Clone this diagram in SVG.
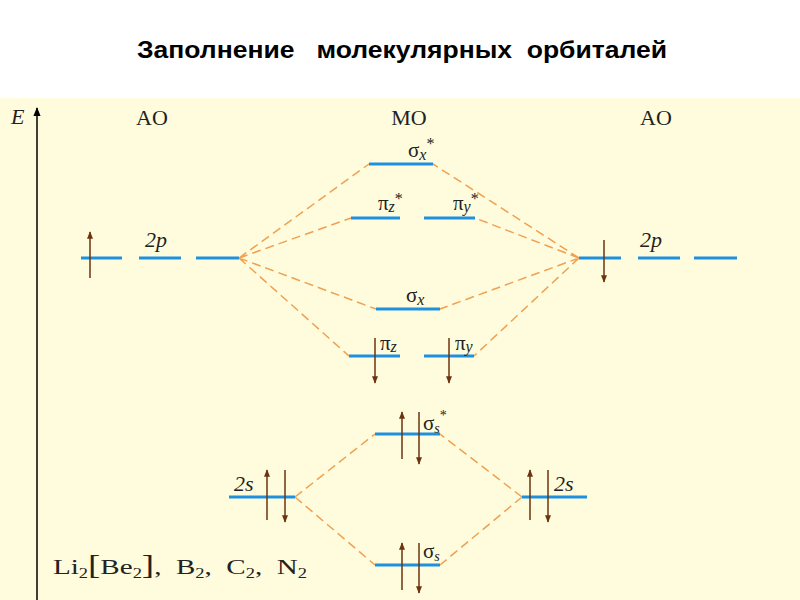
<svg xmlns="http://www.w3.org/2000/svg" width="800" height="600" viewBox="0 0 800 600">
<defs>
<style>
.lv{stroke:#1e90e0;stroke-width:3;fill:none}
.cn{stroke:#f0a050;stroke-width:1.5;stroke-dasharray:9,5;fill:none}
.ar{stroke:#6b3410;stroke-width:1.5;fill:none}
.t{font-family:"Liberation Serif",serif;font-size:22px;fill:#222}
.s{font-family:"Liberation Serif",serif;font-size:21px;fill:#222}
.sub{font-size:14px}
</style>
<marker id="ah" viewBox="0 0 10 10" refX="9" refY="5" markerWidth="5" markerHeight="7" orient="auto"><path d="M0,1 L10,5 L0,9 Z" fill="#6b3410"/></marker>
<marker id="ak" viewBox="0 0 10 10" refX="9" refY="5" markerWidth="6" markerHeight="6" orient="auto"><path d="M0,1 L10,5 L0,9 Z" fill="#000"/></marker>
</defs>
<rect width="800" height="600" fill="#fff"/>
<rect x="0" y="98" width="800" height="502" fill="#fefcdc"/>
<text x="137" y="58" font-family="Liberation Sans,sans-serif" font-weight="bold" font-size="24" style="white-space:pre" textLength="530" lengthAdjust="spacingAndGlyphs">Заполнение   молекулярных  орбиталей</text>
<g id="axis"><line x1="37" y1="600" x2="37" y2="108" stroke="#000" stroke-width="1.5" marker-end="url(#ak)"/><text x="11" y="124" class="t" font-style="italic" font-size="20">E</text></g>
<text class="t" x="152" y="125" text-anchor="middle">AO</text>
<text class="t" x="409" y="125" text-anchor="middle">MO</text>
<text class="t" x="656" y="125" text-anchor="middle">AO</text>
<g id="connectors">
<path class="cn" d="M239,258L369,164M239,258L351,218M239,258L376,309M239,258L349,356M579,258L433,164M579,258L475,218M579,258L440,309M579,258L474,356"/>
<path class="cn" d="M295,497L375,434M295,497L375,565M522,497L440,434M522,497L440,565"/>
</g>
<g id="ao2p-left"><path class="lv" d="M81,258H122M139,258H181M196,258H239"/><line class="ar" x1="90" y1="278" x2="90" y2="232" marker-end="url(#ah)"/><text class="t" x="145" y="247" font-style="italic">2p</text></g>
<g id="ao2p-right"><path class="lv" d="M579,258H621M638,258H680M694,258H737"/><line class="ar" x1="604" y1="240" x2="604" y2="282" marker-end="url(#ah)"/><text class="t" x="640" y="247" font-style="italic">2p</text></g>
<g id="sigmax-star"><path class="lv" d="M369,164H433"/><text class="s" x="408" y="157">σ<tspan font-style="italic" font-size="16" dy="3">x</tspan><tspan dy="-11" font-size="16">*</tspan></text></g>
<g id="pi-star"><path class="lv" d="M351,218H400M424,218H475"/><text class="s" x="378" y="210">π<tspan font-style="italic" font-size="16" dy="2">z</tspan><tspan dy="-8" font-size="16">*</tspan></text><text class="s" x="453" y="210">π<tspan font-style="italic" font-size="16" dy="2">y</tspan><tspan dy="-8" font-size="16">*</tspan></text></g>
<g id="sigmax"><path class="lv" d="M376,309H440"/><text class="s" x="406" y="302">σ<tspan font-style="italic" font-size="16" dy="3">x</tspan></text></g>
<g id="pi"><path class="lv" d="M349,356H400M424,356H474"/><line class="ar" x1="375" y1="338" x2="375" y2="383" marker-end="url(#ah)"/><line class="ar" x1="449" y1="338" x2="449" y2="383" marker-end="url(#ah)"/><text class="s" x="380" y="350">π<tspan font-style="italic" font-size="16" dy="2">z</tspan></text><text class="s" x="455" y="350">π<tspan font-style="italic" font-size="16" dy="2">y</tspan></text></g>
<g id="ao2s-left"><path class="lv" d="M229,497H295"/><line class="ar" x1="267" y1="520" x2="267" y2="470" marker-end="url(#ah)"/><line class="ar" x1="285" y1="470" x2="285" y2="522" marker-end="url(#ah)"/><text class="t" x="234" y="491" font-style="italic">2s</text></g>
<g id="ao2s-right"><path class="lv" d="M522,497H587"/><line class="ar" x1="530" y1="520" x2="530" y2="470" marker-end="url(#ah)"/><line class="ar" x1="548" y1="470" x2="548" y2="522" marker-end="url(#ah)"/><text class="t" x="554" y="491" font-style="italic">2s</text></g>
<g id="sigmas-star"><path class="lv" d="M375,434H440"/><line class="ar" x1="402" y1="459" x2="402" y2="412" marker-end="url(#ah)"/><line class="ar" x1="419" y1="412" x2="419" y2="464" marker-end="url(#ah)"/><text class="s" x="423" y="430" font-size="19">σ<tspan font-style="italic" font-size="14" dy="3">s</tspan><tspan dy="-13" font-size="14">*</tspan></text></g>
<g id="sigmas"><path class="lv" d="M375,565H440"/><line class="ar" x1="402" y1="590" x2="402" y2="543" marker-end="url(#ah)"/><line class="ar" x1="419" y1="543" x2="419" y2="593" marker-end="url(#ah)"/><text class="s" x="423" y="558" font-size="19">σ<tspan font-style="italic" font-size="14" dy="3">s</tspan></text></g>
<text class="t" x="53" y="574" font-size="24" style="white-space:pre" textLength="254" lengthAdjust="spacingAndGlyphs">Li<tspan class="sub" dy="4">2</tspan><tspan dy="-4" font-size="28">[</tspan>Be<tspan class="sub" dy="4">2</tspan><tspan dy="-4" font-size="28">]</tspan>,  B<tspan class="sub" dy="4">2</tspan><tspan dy="-4">,  C</tspan><tspan class="sub" dy="4">2</tspan><tspan dy="-4">,  N</tspan><tspan class="sub" dy="4">2</tspan></text>
</svg>
